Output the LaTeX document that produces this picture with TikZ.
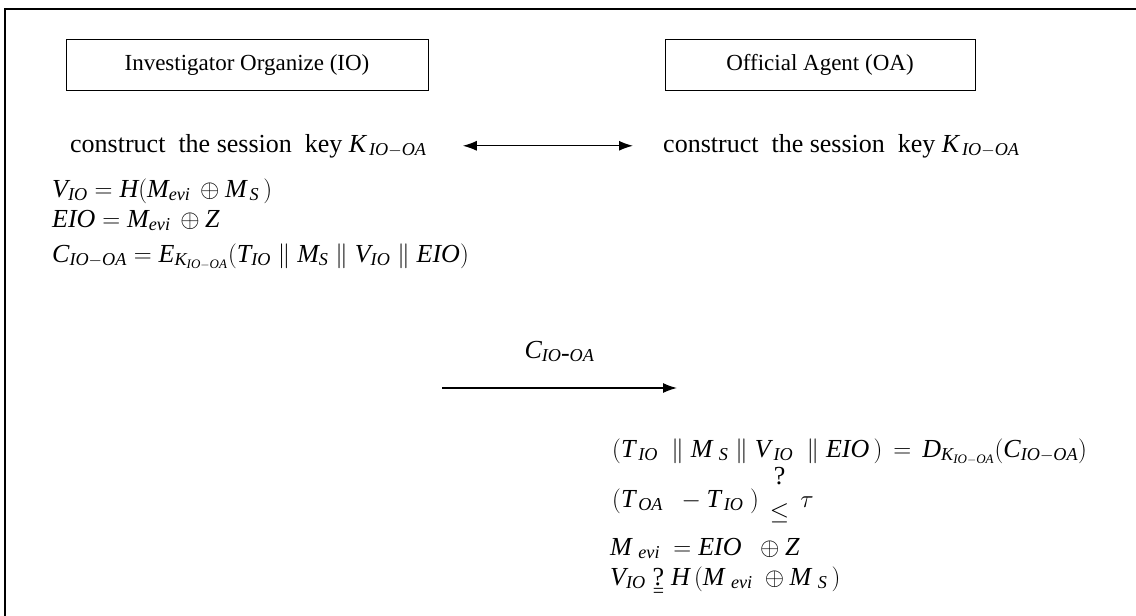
\documentclass[tikz,border=0pt]{standalone}
\usepackage{amsmath}
\usepackage{fontspec}
\setmainfont{Liberation Serif}
\DeclareSymbolFont{letters}{TU}{\rmdefault}{m}{it}
\DeclareSymbolFont{cmletters}{OML}{cmm}{m}{it}
\DeclareMathSymbol{\tau}{\mathord}{cmletters}{"1C}
\usetikzlibrary{arrows.meta}

\newcommand{\qle}{\mathrel{\hbox{\ooalign{\hfil\raisebox{23pt}{?}\hfil\cr\raisebox{-12pt}{$\le$}\cr}}}}
\newcommand{\qeq}{\mathrel{\hbox{\ooalign{\hfil?\hfil\cr\hfil\raisebox{-12pt}{\fontsize{20}{20}\selectfont=}\hfil\cr}}}}

\tikzset{
  party/.style={draw, line width=1pt, minimum width=362pt, minimum height=51pt,
    font=\fontsize{23}{27}\selectfont},
  eqline/.style={anchor=base west, inner sep=0pt, font=\fontsize{26}{30}\selectfont},
  keyarrow/.style={{Latex[length=14pt,width=10pt]}-{Latex[length=14pt,width=10pt]}, line width=1.3pt},
  msgarrow/.style={-{Latex[length=14pt,width=10pt]}, line width=1.3pt},
}

\begin{document}
\begin{tikzpicture}[x=1pt,y=-1pt]
\useasboundingbox (0,0) rectangle (1136,616);
% frame
\draw[line width=1.5pt] (5,620) -- (5,9) -- (1140,9);
% parties
\node[party] (io) at (247,65) {Investigator Organize (IO)};
\node[party, minimum width=310pt] (oa) at (820,65) {Official Agent (OA)};
% session key
\node[eqline] (keyio) at (70,152) {construct\ \ the session\ \ key $K_{\,IO-OA}$};
\node[eqline] (keyoa) at (663,152) {construct\ \ the session\ \ key $K_{\,IO-OA}$};
\draw[keyarrow, shorten <=36pt, shorten >=30pt] (keyio.east) -- (keyoa.west);
% IO side
\node[eqline] (hashio) at (52,197) {$V_{IO} = H(M_{evi}\, \oplus M_{\,S}\,)$};
\node[eqline] (encio) at (52,227) {$EIO = M_{evi}\, \oplus Z$};
\node[eqline] (cipher) at (52,262) {$C_{IO-OA} = E_{K_{IO-OA}}(T_{IO} \parallel M_S \parallel V_{IO} \parallel EIO)$};
% message
\coordinate (msgtail) at (442,388);
\coordinate (msghead) at (677,388);
\draw[msgarrow] (msgtail) -- node[above=22pt, font=\fontsize{26}{30}\selectfont] (msglabel) {$C_{IO\mbox{-}OA}$} (msghead);
% OA side
\node[eqline] (decrypt) at (612,457) {$(T_{\,IO}\ \parallel M_{\ S} \parallel V_{\,IO}\ \parallel EIO\,)\,=\,D_{K_{IO-OA}}(C_{IO-OA})$};
\node[eqline] (fresh) at (612,507) {$(T_{\,OA}\ \ - T_{\,IO}\ )\,\qle\,\tau$};
\node[eqline] (recover) at (610,555) {$M_{\ evi}\ = EIO\ \ \oplus Z$};
\node[eqline] (verify) at (610,585) {$V_{IO}\qeq H\,(M_{\ evi}\ \oplus M_{\ S}\,)$};
\end{tikzpicture}
\end{document}
